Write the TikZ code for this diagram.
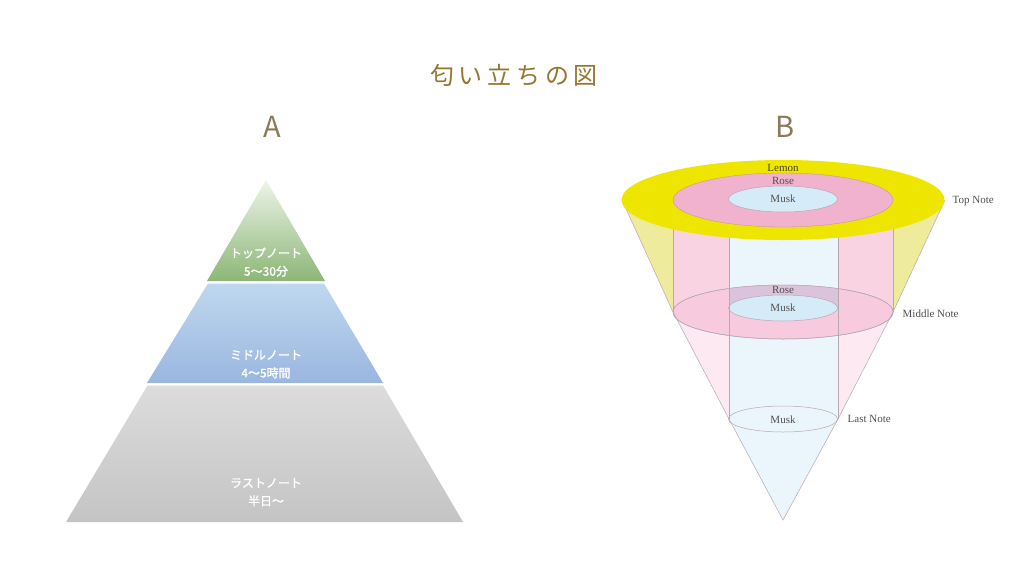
\documentclass[tikz,border=0pt]{standalone}
\usepackage{fontspec}
\setmainfont{Liberation Serif}
\newfontfamily\jpfont{Noto Sans CJK JP}
\newfontfamily\jpboldfont[FakeBold=1.2]{Noto Sans CJK JP}
\usepackage{xcolor}
\definecolor{titleGold}{HTML}{94772F}
\definecolor{letterGray}{HTML}{8A7C5A}
\definecolor{greenTop}{HTML}{EEF4EA}
\definecolor{greenBot}{HTML}{8BB676}
\definecolor{blueTop}{HTML}{BFD8EF}
\definecolor{blueBot}{HTML}{9AB6DF}
\definecolor{grayTop}{HTML}{DCDCDC}
\definecolor{grayBot}{HTML}{C4C4C4}
\definecolor{lemonFill}{HTML}{EFE600}
\definecolor{lemonSide}{HTML}{EFEB9C}
\definecolor{roseTop}{HTML}{F0B2CC}
\definecolor{roseSide}{HTML}{F9D3E2}
\definecolor{roseMid}{HTML}{F7CADD}
\definecolor{roseLow}{HTML}{FCE9F1}
\definecolor{roseMusk}{HTML}{DCC3DC}
\definecolor{muskTop}{HTML}{D6EBF8}
\definecolor{muskSide}{HTML}{EBF5FC}
\definecolor{edgeGray}{HTML}{B8A8B4}
\definecolor{labelDark}{HTML}{505050}
\definecolor{lemonText}{HTML}{4A4220}
\usetikzlibrary{positioning}
\tikzset{%
  pyrText/.style={%
    font=\jpboldfont\fontsize{12}{14}\selectfont,
    text=white,
    inner sep=1pt
  },
  coneText/.style={%
    font=\fontsize{11}{12}\selectfont,
    text=labelDark,
    inner sep=0.5pt
  },
  noteText/.style={%
    coneText,
    anchor=west
  },
  edgeLine/.style={%
    draw=edgeGray,
    line width=0.5pt
  },
  headLetter/.style={%
    font=\jpfont\fontsize{29}{32}\selectfont,
    text=letterGray
  }
}

\begin{document}
\begin{tikzpicture}[x=1pt,y=-1pt]
  \useasboundingbox[fill=white] (0,0) rectangle (1024,576);

  % title and letters
  \node[font=\jpfont\fontsize{24}{28}\selectfont\addfontfeatures{LetterSpace=20}, text=titleGold] (title) at (514,75) {匂い立ちの図};
  \node[headLetter] (letterA) at (272,127) {A};
  \node[headLetter] (letterB) at (785,127) {B};

  % pyramid A
  \shade[top color=greenTop, bottom color=greenBot] (266,180) -- (325,281) -- (207,281) -- cycle;
  \shade[top color=blueTop, bottom color=blueBot] (208,283.5) -- (324,283.5) -- (383,383) -- (147,383) -- cycle;
  \shade[top color=grayTop, bottom color=grayBot] (147.5,385.5) -- (383,385.5) -- (463,522) -- (66,522) -- cycle;

  \node[pyrText] (topNote) at (266,253) {トップノート};
  \node[pyrText, below=5pt of topNote] (topTime) {5〜30分};
  \node[pyrText] (midNote) at (266,355) {ミドルノート};
  \node[pyrText, below=5pt of midNote] (midTime) {4〜5時間};
  \node[pyrText] (lastNote) at (266,483) {ラストノート};
  \node[pyrText, below=5pt of lastNote] (lastTime) {半日〜};

  % cone B: sides
  \fill[muskSide] (729,419) -- (783,520) -- (838,419) -- cycle;
  \fill[lemonSide] (622,200) -- (673,312) arc[start angle=180, end angle=360, x radius=110pt, y radius=27pt] -- (945,200) -- cycle;
  \fill[roseLow] (673,312) -- (729,419) arc[start angle=180, end angle=360, x radius=54.5pt, y radius=13pt] -- (893,312) -- cycle;
  \fill[roseSide] (673,200) -- (673,312) arc[start angle=180, end angle=360, x radius=110pt, y radius=27pt] -- (893,200) -- cycle;
  \fill[muskSide] (729,200) -- (729,419) arc[start angle=180, end angle=360, x radius=54.5pt, y radius=13pt] -- (838,200) -- cycle;

  % middle level
  \filldraw[fill=roseMid, edgeLine] (783,312) ellipse[x radius=110pt, y radius=27pt];
  \begin{scope}
    \clip (783,312) ellipse[x radius=110pt, y radius=27pt];
    \fill[roseMusk] (729,280) rectangle (838,308);
  \end{scope}
  \draw[edgeLine] (783,312) ellipse[x radius=110pt, y radius=27pt];
  \filldraw[fill=muskTop, edgeLine] (783,308) ellipse[x radius=54.5pt, y radius=13pt];

  % last level
  \filldraw[fill=muskSide, edgeLine] (783,419) ellipse[x radius=54.5pt, y radius=13pt];

  % outlines
  \draw[edgeLine] (622,200) -- (673,312) -- (729,419) -- (783,520) -- (838,419) -- (893,312) -- (945,200);
  \draw[edgeLine] (673,200) -- (673,312);
  \draw[edgeLine] (893,200) -- (893,312);
  \draw[edgeLine] (729,200) -- (729,419);
  \draw[edgeLine] (838,200) -- (838,419);

  % top level
  \fill[lemonFill] (783,200) ellipse[x radius=161.5pt, y radius=40pt];
  \filldraw[fill=roseTop, draw=roseTop!80!black, line width=0.3pt] (783,200) ellipse[x radius=110pt, y radius=27pt];
  \filldraw[fill=muskTop, edgeLine] (783,199) ellipse[x radius=54.5pt, y radius=13pt];

  % labels
  \node[coneText, text=lemonText] (lemonLabel) at (783,168) {Lemon};
  \node[coneText] (roseTopLabel) at (783,181) {Rose};
  \node[coneText] (muskTopLabel) at (783,199) {Musk};
  \node[coneText] (roseMidLabel) at (783,290) {Rose};
  \node[coneText] (muskMidLabel) at (783,308) {Musk};
  \node[coneText] (muskLastLabel) at (783,420) {Musk};
  \node[noteText] (topLevel) at (952,201) {Top Note};
  \node[noteText] (midLevel) at (902,314) {Middle Note};
  \node[noteText] (lastLevel) at (847,419) {Last Note};
\end{tikzpicture}
\end{document}
